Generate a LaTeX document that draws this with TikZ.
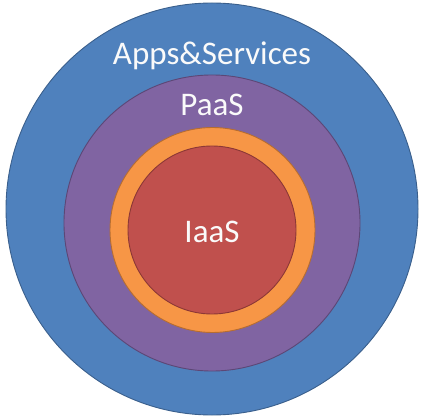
\documentclass[tikz,border=0pt]{standalone}
\usepackage{fontspec}
\setmainfont{Carlito}
\definecolor{appsblue}{HTML}{4F81BD}
\definecolor{appsline}{HTML}{3A5F8C}
\definecolor{paaspurple}{HTML}{8064A2}
\definecolor{paasline}{HTML}{5C4776}
\definecolor{ringorange}{HTML}{F79646}
\definecolor{ringline}{HTML}{B66D31}
\definecolor{iaasred}{HTML}{C0504D}
\definecolor{iaasline}{HTML}{8C3836}
\tikzset{
  layer/.style={line width=0.9pt},
  label/.style={text=white!96!gray, font=\fontsize{33}{36}\selectfont, inner sep=0pt}
}
\begin{document}
\begin{tikzpicture}[x=1pt, y=-1pt]
\useasboundingbox (0,0) rectangle (427,419);
\node (apps) at (212, 209)   {};
\node (paas) at (212, 223)   {};
\node (ring) at (212.5, 230) {};
\node (iaas) at (212, 230)   {};

\filldraw[layer, fill=appsblue, draw=appsline] (apps) circle (206pt);
\filldraw[layer, fill=paaspurple, draw=paasline] (paas) circle (148pt);
\filldraw[layer, fill=ringorange, draw=ringline] (ring) circle (102.5pt);
\filldraw[layer, fill=iaasred, draw=iaasline] (iaas) circle (84pt);

\node[label] (appstext) at (212, 56)  {Apps\&Services};
\node[label] (paastext) at (212, 105) {PaaS};
\node[label] (iaastext) at (212, 232) {IaaS};
\end{tikzpicture}
\end{document}
